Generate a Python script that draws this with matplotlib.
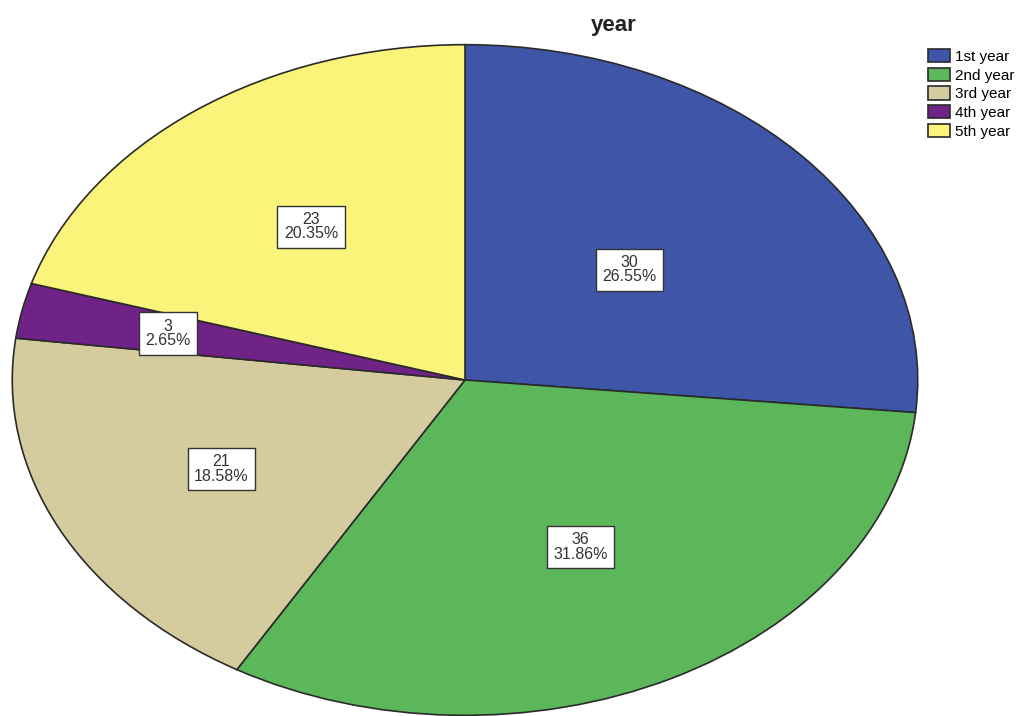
import numpy as np
from matplotlib import pyplot as plt

plt.rcParams['font.family'] = ['Liberation Sans', 'DejaVu Sans']

categories = ['1st year', '2nd year', '3rd year', '4th year', '5th year']
counts = [30, 36, 21, 3, 23]
colors = ['#3f56a8', '#5cb65a', '#d4cc9e', '#6f2386', '#fbf47a']
label_r = [0.49, 0.56, 0.60, 0.67, 0.57]

total = sum(counts)
fig = plt.figure(figsize=(10.35, 7.16), dpi=100)
# pie is stretched into an ellipse by the axes box
ax = fig.add_axes([10 / 1035, -1 / 716, 910 / 1035, 674 / 716])
wedges, _ = ax.pie(counts, colors=colors, startangle=90, counterclock=False,
                   wedgeprops=dict(edgecolor='#2a2a2a', linewidth=1.2))
ax.set_aspect('auto')
ax.set_xlim(-1.005, 1.005)
ax.set_ylim(-1.005, 1.005)

for w, c, r in zip(wedges, counts, label_r):
    ang = np.deg2rad((w.theta1 + w.theta2) / 2)
    pct = 100 * c / total
    ax.text(r * np.cos(ang), r * np.sin(ang), f'{c}\n{pct:.2f}%',
            ha='center', va='center', fontsize=11.5, linespacing=0.95,
            color='#333333',
            bbox=dict(boxstyle='square,pad=0.4', fc='white', ec='#333333', lw=1))

fig.text(614 / 1035, 1 - 25 / 716, 'year', ha='center', va='center',
         fontsize=16, fontweight='bold', color='#222222')

fig.legend(wedges, categories, loc='upper left',
           bbox_to_anchor=(922 / 1035, 1 - 43 / 716), frameon=False,
           fontsize=11, handlelength=1.45, handleheight=0.95,
           handletextpad=0.3, labelspacing=0.25, borderaxespad=0)

fig.savefig('out.png', dpi=100)
